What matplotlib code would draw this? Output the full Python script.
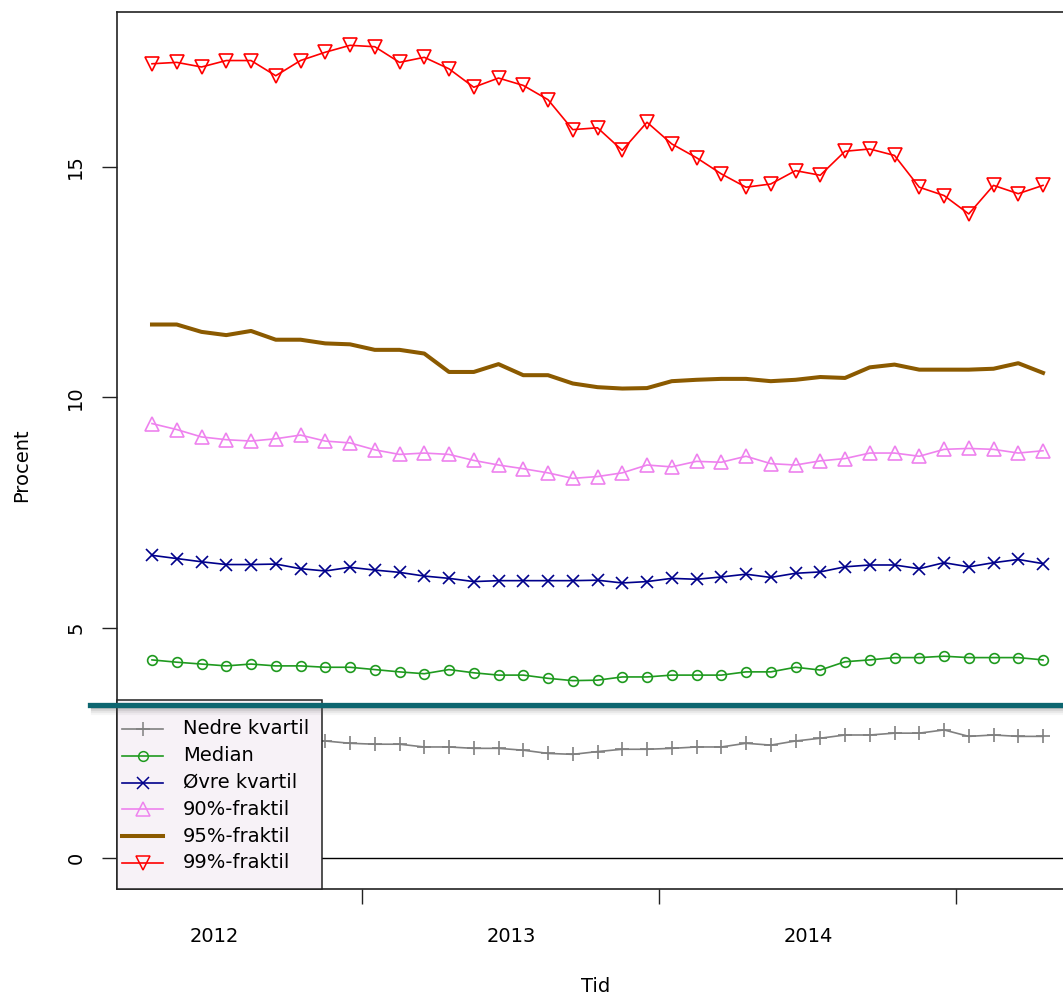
import numpy as np
import matplotlib.pyplot as plt
from matplotlib.lines import Line2D
from matplotlib.patches import Rectangle

plt.rcParams['font.family'] = ['DejaVu Sans']

# maanedlige observationer, april 2012 - april 2015 (procent)
n_months = 37
tid = 2012 + (np.arange(n_months) + 3.5) / 12

nedre_kvartil = [2.60, 2.60, 2.58, 2.56, 2.55, 2.55, 2.54, 2.54, 2.49, 2.47,
                 2.47, 2.41, 2.41, 2.38, 2.38, 2.34, 2.27, 2.25, 2.31, 2.36,
                 2.36, 2.38, 2.41, 2.41, 2.49, 2.45, 2.54, 2.60, 2.67, 2.67,
                 2.71, 2.71, 2.78, 2.64, 2.67, 2.64, 2.64]
median = [4.30, 4.25, 4.21, 4.17, 4.21, 4.17, 4.17, 4.14, 4.14, 4.09,
          4.04, 4.00, 4.09, 4.02, 3.97, 3.97, 3.90, 3.85, 3.86, 3.93,
          3.93, 3.97, 3.97, 3.97, 4.04, 4.04, 4.14, 4.08, 4.26, 4.30,
          4.35, 4.35, 4.38, 4.35, 4.35, 4.35, 4.30]
oevre_kvartil = [6.57, 6.50, 6.43, 6.37, 6.37, 6.38, 6.28, 6.23, 6.31, 6.25,
                 6.20, 6.12, 6.07, 6.00, 6.02, 6.02, 6.02, 6.02, 6.03, 5.97,
                 6.00, 6.07, 6.05, 6.10, 6.16, 6.09, 6.18, 6.21, 6.32, 6.36,
                 6.36, 6.28, 6.41, 6.32, 6.41, 6.48, 6.39]
fraktil_90 = [9.43, 9.30, 9.14, 9.08, 9.05, 9.10, 9.18, 9.05, 9.01, 8.86,
              8.76, 8.79, 8.76, 8.63, 8.53, 8.45, 8.36, 8.24, 8.28, 8.36,
              8.53, 8.49, 8.61, 8.59, 8.72, 8.56, 8.53, 8.62, 8.67, 8.79,
              8.79, 8.72, 8.87, 8.89, 8.87, 8.79, 8.84]
fraktil_95 = [11.58, 11.58, 11.42, 11.35, 11.44, 11.25, 11.25, 11.17, 11.15, 11.03,
              11.03, 10.95, 10.55, 10.55, 10.72, 10.48, 10.48, 10.30, 10.22, 10.19,
              10.20, 10.35, 10.38, 10.40, 10.40, 10.35, 10.38, 10.44, 10.42, 10.65,
              10.71, 10.60, 10.60, 10.60, 10.62, 10.74, 10.53]
fraktil_99 = [17.24, 17.27, 17.17, 17.31, 17.31, 16.98, 17.31, 17.49, 17.64, 17.61,
              17.27, 17.38, 17.13, 16.73, 16.93, 16.77, 16.46, 15.81, 15.85, 15.36,
              15.97, 15.50, 15.20, 14.85, 14.56, 14.63, 14.92, 14.82, 15.34, 15.39,
              15.25, 14.56, 14.38, 13.98, 14.60, 14.42, 14.60]

labels = ['Nedre kvartil', 'Median', 'Øvre kvartil', '90%-fraktil', '95%-fraktil', '99%-fraktil']
values = [nedre_kvartil, median, oevre_kvartil, fraktil_90, fraktil_95, fraktil_99]
colors = ['#808080', '#1f9a1f', '#00008b', '#ee82ee', '#8b5a00', '#ff0000']
markers = ['+', 'o', 'x', '^', None, 'v']
msizes = [9.5, 7, 8, 9.5, 0, 10]
lwidths = [1.2, 1.2, 1.2, 1.2, 2.9, 1.2]

year_ticks = [2013, 2014, 2015]
year_labels = ['2012', '2013', '2014']
y_ticks = [0, 5, 10, 15]

# figure geometry (pixels)
W, H = 1063, 999
ax_l, ax_r, ax_t, ax_b = 117, 1080, 12, 889

fig = plt.figure(figsize=(W / 100, H / 100), dpi=100)
ax = fig.add_axes([ax_l / W, 1 - ax_b / H, (ax_r - ax_l) / W, (ax_b - ax_t) / H])


def px_to_x(px):
    return 2012 + (3.5 + (px - 152) / 24.75) / 12


def py_to_y(py):
    return (858 - py) / 46.07


ax.set_xlim(px_to_x(ax_l), px_to_x(ax_r))
ax.set_ylim(py_to_y(ax_b), py_to_y(ax_t))

for lab, v, c, m, ms, lw in zip(labels, values, colors, markers, msizes, lwidths):
    ax.plot(tid, v, color=c, lw=lw, marker=m, markersize=ms,
            markerfacecolor='none', markeredgecolor=c, markeredgewidth=1.2,
            zorder=3)

ax.axhline(0, color='black', lw=1.0, zorder=2)

# akser i R-stil
ax.set_xticks(year_ticks)
ax.set_xticklabels([])
ax.set_xticks([y + 0.5 for y in range(2012, 2015)], minor=True)
ax.set_xticklabels(year_labels, minor=True)
ax.tick_params(axis='x', which='major', length=10.5, width=1.0, color='#222222')
ax.tick_params(axis='x', which='minor', length=0, pad=27, labelsize=14)

ax.set_yticks(y_ticks)
ax.set_yticklabels([str(t) for t in y_ticks])
ax.tick_params(axis='y', length=10.8, width=1.0, color='#222222', pad=12, labelsize=14,
               labelrotation=90)
for t in ax.get_yticklabels():
    t.set_va('center')

for s in ax.spines.values():
    s.set_linewidth(1.2)
    s.set_color('#222222')

fig.text(596 / W, 1 - 987 / H, 'Tid', ha='center', va='center', fontsize=14)
fig.text(22 / W, 1 - 465 / H, 'Procent', ha='center', va='center', fontsize=14, rotation=90)


# forklaring (nederst til venstre)
def frac(px, py):
    return (px - ax_l) / (ax_r - ax_l), (ax_b - py) / (ax_b - ax_t)


x0, y0 = frac(117, 889)
x1, y1 = frac(322, 700)
ax.add_patch(Rectangle((x0, y0), x1 - x0, y1 - y0, transform=ax.transAxes,
                       facecolor='#f7f2f7', edgecolor='#222222', lw=1.1,
                       zorder=6, clip_on=False))
for k, (lab, c, m, ms, lw) in enumerate(zip(labels, colors, markers, msizes, lwidths)):
    ry = 729 + 26.8 * k
    a, b = frac(122, ry)
    d, _ = frac(163, ry)
    mx, _ = frac(143, ry)
    ax.add_line(Line2D([a, d], [b, b], color=c, lw=lw, transform=ax.transAxes,
                       zorder=7, clip_on=False))
    if m is not None:
        ax.add_line(Line2D([mx], [b], color=c, marker=m, markersize=ms,
                           markerfacecolor='none', markeredgecolor=c,
                           markeredgewidth=1.1, transform=ax.transAxes,
                           zorder=7, clip_on=False))
    tx, _ = frac(183, ry)
    ax.text(tx, b, lab, transform=ax.transAxes, ha='left', va='center',
            fontsize=14, zorder=8)

# markeringslinje (overlay) med lille skygge
for dy, al in [(3, 0.35), (5, 0.22), (7, 0.12), (9, 0.05)]:
    fig.add_artist(Line2D([92 / W, 1], [1 - (705 + dy) / H] * 2, color='#555555',
                          lw=1.6, alpha=al, transform=fig.transFigure))
fig.add_artist(Line2D([90 / W, 1], [1 - 705 / H] * 2, color='#0d6670', lw=3.8,
                      transform=fig.transFigure))

fig.savefig('out.png', dpi=100)
